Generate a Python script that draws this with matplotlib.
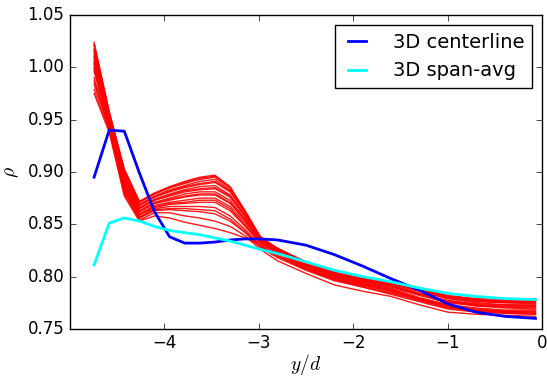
import numpy as np
import matplotlib
matplotlib.use("Agg")
import matplotlib.pyplot as plt

plt.style.use("classic")

# stations along y/d
y_over_d = [-4.745, -4.585, -4.425, -4.265, -4.105, -3.945, -3.785, -3.625,
            -3.465, -3.305, -3.145, -2.985, -2.8, -2.5, -2.2, -1.9, -1.6,
            -1.3, -1.0, -0.7, -0.4, -0.07]

centerline_3d = [0.895, 0.940, 0.939, 0.899, 0.862, 0.838, 0.832, 0.832,
                 0.833, 0.835, 0.836, 0.836, 0.835, 0.830, 0.821, 0.810,
                 0.798, 0.787, 0.774, 0.766, 0.762, 0.760]

span_avg_3d = [0.811, 0.851, 0.856, 0.853, 0.848, 0.844, 0.842, 0.840,
               0.837, 0.834, 0.830, 0.826, 0.822, 0.814, 0.806, 0.800,
               0.795, 0.789, 0.784, 0.781, 0.779, 0.778]

# ensemble of runs: each row lists the run values at one station (y_over_d)
red_by_station = [
    [1.024, 1.021, 1.018, 1.015, 1.012, 1.009, 1.006, 1.003, 1.000, 0.996, 0.990, 0.984, 0.979, 0.975, 1.022, 1.016, 1.010, 1.004, 0.998, 0.987],
    [0.958, 0.957, 0.955, 0.954, 0.952, 0.951, 0.949, 0.948, 0.946, 0.945, 0.943, 0.942, 0.940, 0.938, 0.957, 0.954, 0.951, 0.948, 0.945, 0.942],
    [0.903, 0.901, 0.899, 0.897, 0.895, 0.893, 0.891, 0.889, 0.887, 0.885, 0.883, 0.881, 0.879, 0.877, 0.902, 0.898, 0.894, 0.890, 0.886, 0.882],
    [0.872, 0.871, 0.869, 0.868, 0.866, 0.865, 0.863, 0.862, 0.860, 0.859, 0.857, 0.856, 0.854, 0.853, 0.871, 0.868, 0.865, 0.862, 0.859, 0.856],
    [0.880, 0.879, 0.877, 0.876, 0.874, 0.873, 0.871, 0.870, 0.868, 0.866, 0.865, 0.863, 0.861, 0.858, 0.879, 0.876, 0.873, 0.870, 0.867, 0.864],
    [0.886, 0.885, 0.883, 0.881, 0.879, 0.877, 0.875, 0.873, 0.871, 0.869, 0.867, 0.864, 0.861, 0.856, 0.885, 0.882, 0.878, 0.874, 0.870, 0.865],
    [0.891, 0.889, 0.887, 0.885, 0.883, 0.881, 0.879, 0.876, 0.873, 0.870, 0.867, 0.863, 0.858, 0.852, 0.890, 0.886, 0.882, 0.877, 0.871, 0.865],
    [0.895, 0.893, 0.891, 0.888, 0.886, 0.883, 0.881, 0.878, 0.875, 0.871, 0.867, 0.862, 0.856, 0.849, 0.894, 0.889, 0.884, 0.879, 0.873, 0.864],
    [0.897, 0.895, 0.893, 0.890, 0.887, 0.884, 0.881, 0.878, 0.875, 0.871, 0.866, 0.860, 0.853, 0.846, 0.896, 0.891, 0.885, 0.879, 0.873, 0.863],
    [0.886, 0.885, 0.883, 0.881, 0.878, 0.876, 0.873, 0.870, 0.867, 0.863, 0.858, 0.853, 0.848, 0.842, 0.885, 0.882, 0.877, 0.871, 0.865, 0.855],
    [0.862, 0.863, 0.862, 0.861, 0.859, 0.857, 0.855, 0.853, 0.851, 0.848, 0.845, 0.842, 0.839, 0.837, 0.862, 0.861, 0.858, 0.854, 0.849, 0.843],
    [0.837, 0.838, 0.838, 0.838, 0.837, 0.836, 0.835, 0.834, 0.833, 0.832, 0.830, 0.828, 0.826, 0.830, 0.837, 0.838, 0.836, 0.834, 0.832, 0.829],
    [0.822, 0.824, 0.826, 0.827, 0.827, 0.826, 0.825, 0.824, 0.823, 0.822, 0.820, 0.818, 0.815, 0.820, 0.823, 0.826, 0.826, 0.824, 0.822, 0.819],
    [0.808, 0.810, 0.812, 0.813, 0.814, 0.814, 0.813, 0.812, 0.811, 0.810, 0.808, 0.806, 0.803, 0.807, 0.809, 0.812, 0.814, 0.812, 0.810, 0.807],
    [0.798, 0.800, 0.802, 0.803, 0.804, 0.804, 0.803, 0.802, 0.801, 0.800, 0.798, 0.796, 0.792, 0.797, 0.799, 0.802, 0.804, 0.802, 0.800, 0.797],
    [0.792, 0.794, 0.796, 0.797, 0.798, 0.798, 0.797, 0.796, 0.795, 0.794, 0.792, 0.790, 0.786, 0.790, 0.793, 0.796, 0.798, 0.796, 0.794, 0.791],
    [0.786, 0.788, 0.791, 0.793, 0.795, 0.795, 0.794, 0.793, 0.791, 0.789, 0.787, 0.784, 0.781, 0.783, 0.787, 0.792, 0.795, 0.793, 0.790, 0.785],
    [0.778, 0.780, 0.783, 0.786, 0.788, 0.789, 0.788, 0.786, 0.784, 0.782, 0.779, 0.777, 0.773, 0.776, 0.779, 0.784, 0.788, 0.787, 0.783, 0.778],
    [0.771, 0.773, 0.776, 0.779, 0.781, 0.782, 0.781, 0.779, 0.777, 0.775, 0.773, 0.770, 0.766, 0.769, 0.772, 0.777, 0.781, 0.780, 0.776, 0.771],
    [0.767, 0.769, 0.772, 0.775, 0.777, 0.779, 0.778, 0.776, 0.774, 0.772, 0.770, 0.767, 0.764, 0.766, 0.768, 0.773, 0.778, 0.777, 0.773, 0.768],
    [0.765, 0.767, 0.770, 0.773, 0.775, 0.778, 0.777, 0.775, 0.773, 0.771, 0.768, 0.766, 0.763, 0.765, 0.766, 0.771, 0.776, 0.776, 0.772, 0.767],
    [0.764, 0.766, 0.769, 0.772, 0.774, 0.779, 0.777, 0.775, 0.773, 0.771, 0.768, 0.766, 0.762, 0.764, 0.765, 0.770, 0.776, 0.776, 0.772, 0.767],
]

x_ticks = [-4, -3, -2, -1, 0]
y_ticks = [0.75, 0.80, 0.85, 0.90, 0.95, 1.00, 1.05]

fig = plt.figure(figsize=(5.47, 3.78), dpi=100, facecolor="white")
ax = fig.add_axes([0.128, 0.130, 0.863, 0.830])
ax.set_facecolor("white")

runs = np.array(red_by_station).T
for run in runs:
    ax.plot(y_over_d, run, color="red", lw=1.0, alpha=0.9)

ax.plot(y_over_d, centerline_3d, color="blue", lw=2, label="3D centerline")
ax.plot(y_over_d, span_avg_3d, color="cyan", lw=2, label="3D span-avg")

ax.set_xlim(-5, 0)
ax.set_ylim(0.75, 1.05)
ax.set_xticks(x_ticks)
ax.set_yticks(y_ticks)
ax.set_yticklabels([f"{v:.2f}" for v in y_ticks])
ax.tick_params(labelsize=12)
ax.set_xlabel(r"$y/d$", fontsize=14, labelpad=0)
ax.set_ylabel(r"$\rho$", fontsize=14)

leg = ax.legend(loc="upper right", fontsize=14, handlelength=1.5,
                handletextpad=1.1, numpoints=2)
leg.get_frame().set_linewidth(1.0)

fig.savefig("out.png", dpi=100, facecolor="white")
